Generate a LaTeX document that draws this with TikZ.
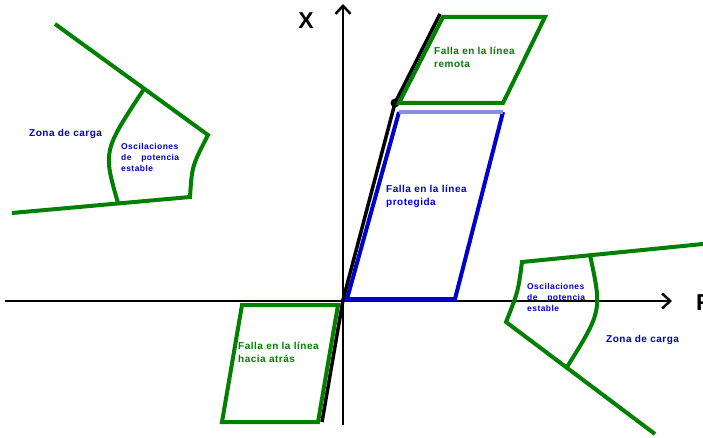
\documentclass[tikz,border=0pt]{standalone}
\usepackage{fontspec}
\setmainfont{Liberation Sans}
\newfontfamily\lblfont[LetterSpace=5]{Liberation Sans}
\usetikzlibrary{arrows.meta}
\usepackage{xcolor}
\definecolor{zgreen}{HTML}{008000}
\definecolor{zblue}{HTML}{0000CC}
\tikzset{
  eje/.style={line width=2.5pt, -{Straight Barb[length=8pt,width=15pt]}},
  zona/.style={draw=zgreen, line width=4pt, line join=miter},
  falla/.style={font=\lblfont\fontsize{10}{13}\selectfont\bfseries, align=left, inner sep=0pt, anchor=north west},
  oscil/.style={font=\lblfont\fontsize{8.5}{11}\selectfont\bfseries, text=zblue, text width=58pt, align=left, inner sep=0pt, anchor=north west}
}

\begin{document}
\begin{tikzpicture}[x=1pt,y=-1pt]
\useasboundingbox (0,0) rectangle (703,438);
\clip (0,0) rectangle (703,438);
\coordinate (O) at (343,300);
\coordinate (xtop) at (343,4);
\coordinate (xbot) at (343,425);
\coordinate (rleft) at (5,301);
\coordinate (rtip) at (672,301);
\draw[eje] (rleft) -- (rtip);
\draw[eje] (xbot) -- (xtop);
\node[font=\fontsize{23}{23}\selectfont\bfseries] (X) at (306,21) {X};
\node[font=\fontsize{23}{23}\selectfont\bfseries, anchor=west, inner sep=0pt] (R) at (696,303) {R};

\coordinate (Z1) at (395,103);
\coordinate (Z2) at (440,14);
\coordinate (Zb) at (322,422);
\draw[line width=3.5pt] (Zb) -- (O) -- (Z1) -- (Z2);
\fill (Z1) circle (4.5pt);

\coordinate (r1) at (443,17);
\coordinate (r2) at (545,17);
\coordinate (r3) at (503,103);
\coordinate (r4) at (399,103);
\draw[zona] (r1) -- (r2) -- (r3) -- (r4) -- cycle;

\coordinate (p1) at (347,299);
\coordinate (p2) at (399,112);
\coordinate (p3) at (503,112);
\coordinate (p4) at (455,299);
\draw[zblue, line width=4pt] (p2) -- (p1) -- (p4) -- (p3);
\draw[zblue!45, line width=4pt] (p2) -- (p3);

\coordinate (a1) at (242,305);
\coordinate (a2) at (338,305);
\coordinate (a3) at (318,422);
\coordinate (a4) at (222,422);
\draw[zona] (a1) -- (a2) -- (a3) -- (a4) -- cycle;

\draw[zona] (55,24) -- (208,135) .. controls (192,166) .. (190,197) -- (12,213);
\draw[zona] (144,89) .. controls (103,151) .. (118,203);
\draw[zona] (703,244) -- (522,262) .. controls (518,292) .. (506,322) -- (655,434);
\draw[zona] (590,255) .. controls (602,311) .. (567,367);

\node[falla, text=zgreen] (remota) at (434,47) {Falla en la línea\\remota};
\node[falla, text=zblue] (protegida) at (386,185) {Falla en la línea\\protegida};
\node[falla, text=zgreen] (atras) at (238,342) {Falla en la línea\\hacia atrás};
\node[falla, text=zblue, anchor=west] (cargaL) at (29,134) {Zona de carga};
\node[falla, text=zblue, anchor=west] (cargaR) at (606,340) {Zona de carga};
\node[oscil] (oscL) at (121,143) {Oscilaciones\\de\hfill potencia\\estable};
\node[oscil] (oscR) at (527,283) {Oscilaciones\\de\hfill potencia\\estable};
\end{tikzpicture}
\end{document}
